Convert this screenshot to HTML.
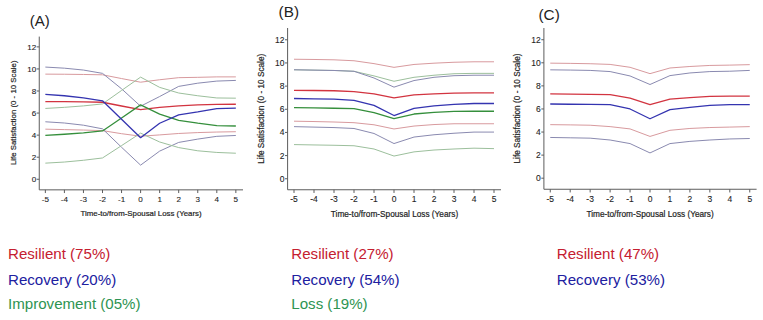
<!DOCTYPE html>
<html><head><meta charset="utf-8"><style>
html,body{margin:0;padding:0;background:#fff;width:763px;height:320px;overflow:hidden}
svg{display:block;font-family:"Liberation Sans", sans-serif}
</style></head><body>
<svg width="763" height="320" viewBox="0 0 763 320">
<rect width="763" height="320" fill="#fff"/>
<text x="29.75" y="25.7" font-size="15" fill="#222">(A)</text>
<path d="M39.25 36.6 V189.85 H243" fill="none" stroke="#5c5c5c" stroke-width="1"/>
<path d="M36.65 179.25 H39.25" stroke="#5c5c5c" stroke-width="1"/>
<text x="36.15" y="182.17" font-size="8.1" text-anchor="end" fill="#1e1e1e" stroke="#1e1e1e" stroke-width="0.1">0</text>
<path d="M36.65 157.19 H39.25" stroke="#5c5c5c" stroke-width="1"/>
<text x="36.15" y="160.11" font-size="8.1" text-anchor="end" fill="#1e1e1e" stroke="#1e1e1e" stroke-width="0.1">2</text>
<path d="M36.65 135.13 H39.25" stroke="#5c5c5c" stroke-width="1"/>
<text x="36.15" y="138.05" font-size="8.1" text-anchor="end" fill="#1e1e1e" stroke="#1e1e1e" stroke-width="0.1">4</text>
<path d="M36.65 113.07 H39.25" stroke="#5c5c5c" stroke-width="1"/>
<text x="36.15" y="115.99" font-size="8.1" text-anchor="end" fill="#1e1e1e" stroke="#1e1e1e" stroke-width="0.1">6</text>
<path d="M36.65 91.01 H39.25" stroke="#5c5c5c" stroke-width="1"/>
<text x="36.15" y="93.93" font-size="8.1" text-anchor="end" fill="#1e1e1e" stroke="#1e1e1e" stroke-width="0.1">8</text>
<path d="M36.65 68.95 H39.25" stroke="#5c5c5c" stroke-width="1"/>
<text x="36.15" y="71.87" font-size="8.1" text-anchor="end" fill="#1e1e1e" stroke="#1e1e1e" stroke-width="0.1">10</text>
<path d="M36.65 46.89 H39.25" stroke="#5c5c5c" stroke-width="1"/>
<text x="36.15" y="49.81" font-size="8.1" text-anchor="end" fill="#1e1e1e" stroke="#1e1e1e" stroke-width="0.1">12</text>
<path d="M45.35 189.85 V193.05" stroke="#5c5c5c" stroke-width="1"/>
<text x="45.35" y="202.20" font-size="8.1" text-anchor="middle" fill="#1e1e1e" stroke="#1e1e1e" stroke-width="0.1">-5</text>
<path d="M64.40 189.85 V193.05" stroke="#5c5c5c" stroke-width="1"/>
<text x="64.40" y="202.20" font-size="8.1" text-anchor="middle" fill="#1e1e1e" stroke="#1e1e1e" stroke-width="0.1">-4</text>
<path d="M83.45 189.85 V193.05" stroke="#5c5c5c" stroke-width="1"/>
<text x="83.45" y="202.20" font-size="8.1" text-anchor="middle" fill="#1e1e1e" stroke="#1e1e1e" stroke-width="0.1">-3</text>
<path d="M102.50 189.85 V193.05" stroke="#5c5c5c" stroke-width="1"/>
<text x="102.50" y="202.20" font-size="8.1" text-anchor="middle" fill="#1e1e1e" stroke="#1e1e1e" stroke-width="0.1">-2</text>
<path d="M121.55 189.85 V193.05" stroke="#5c5c5c" stroke-width="1"/>
<text x="121.55" y="202.20" font-size="8.1" text-anchor="middle" fill="#1e1e1e" stroke="#1e1e1e" stroke-width="0.1">-1</text>
<path d="M140.60 189.85 V193.05" stroke="#5c5c5c" stroke-width="1"/>
<text x="140.60" y="202.20" font-size="8.1" text-anchor="middle" fill="#1e1e1e" stroke="#1e1e1e" stroke-width="0.1">0</text>
<path d="M159.65 189.85 V193.05" stroke="#5c5c5c" stroke-width="1"/>
<text x="159.65" y="202.20" font-size="8.1" text-anchor="middle" fill="#1e1e1e" stroke="#1e1e1e" stroke-width="0.1">1</text>
<path d="M178.70 189.85 V193.05" stroke="#5c5c5c" stroke-width="1"/>
<text x="178.70" y="202.20" font-size="8.1" text-anchor="middle" fill="#1e1e1e" stroke="#1e1e1e" stroke-width="0.1">2</text>
<path d="M197.75 189.85 V193.05" stroke="#5c5c5c" stroke-width="1"/>
<text x="197.75" y="202.20" font-size="8.1" text-anchor="middle" fill="#1e1e1e" stroke="#1e1e1e" stroke-width="0.1">3</text>
<path d="M216.80 189.85 V193.05" stroke="#5c5c5c" stroke-width="1"/>
<text x="216.80" y="202.20" font-size="8.1" text-anchor="middle" fill="#1e1e1e" stroke="#1e1e1e" stroke-width="0.1">4</text>
<path d="M235.85 189.85 V193.05" stroke="#5c5c5c" stroke-width="1"/>
<text x="235.85" y="202.20" font-size="8.1" text-anchor="middle" fill="#1e1e1e" stroke="#1e1e1e" stroke-width="0.1">5</text>
<text x="141.1" y="215.9" font-size="7.85" text-anchor="middle" fill="#1e1e1e" stroke="#1e1e1e" stroke-width="0.2">Time-to/from-Spousal Loss (Years)</text>
<text transform="translate(16.1 112.8) rotate(-90)" x="0" y="0" font-size="7.85" text-anchor="middle" fill="#1e1e1e" stroke="#1e1e1e" stroke-width="0.2">Life Satisfaction (0 - 10 Scale)</text>
<polyline points="45.35,74.13 64.40,74.24 83.45,74.47 102.50,74.80 121.55,78.55 140.60,82.19 159.65,79.76 178.70,77.66 197.75,77.33 216.80,76.89 235.85,76.89" fill="none" stroke="#d89a9e" stroke-width="1.0" stroke-linejoin="round"/>
<polyline points="45.35,129.17 64.40,129.62 83.45,130.06 102.50,130.61 121.55,133.70 140.60,136.23 159.65,134.91 178.70,133.48 197.75,132.59 216.80,132.04 235.85,131.71" fill="none" stroke="#d89a9e" stroke-width="1.0" stroke-linejoin="round"/>
<polyline points="45.35,67.07 64.40,68.18 83.45,70.05 102.50,73.36 121.55,88.80 140.60,106.23 159.65,96.53 178.70,86.38 197.75,83.18 216.80,81.08 235.85,80.42" fill="none" stroke="#8a8ab0" stroke-width="1.0" stroke-linejoin="round"/>
<polyline points="45.35,121.78 64.40,123.00 83.45,125.20 102.50,128.84 121.55,147.26 140.60,165.13 159.65,151.12 178.70,142.41 197.75,139.10 216.80,136.34 235.85,135.46" fill="none" stroke="#8a8ab0" stroke-width="1.0" stroke-linejoin="round"/>
<polyline points="45.35,108.44 64.40,107.33 83.45,105.90 102.50,103.92 121.55,90.46 140.60,77.11 159.65,87.37 178.70,93.00 197.75,95.75 216.80,97.96 235.85,98.18" fill="none" stroke="#9cbf9c" stroke-width="1.0" stroke-linejoin="round"/>
<polyline points="45.35,163.15 64.40,162.04 83.45,160.28 102.50,157.96 121.55,145.61 140.60,133.14 159.65,141.97 178.70,147.59 197.75,150.79 216.80,152.45 235.85,153.22" fill="none" stroke="#9cbf9c" stroke-width="1.0" stroke-linejoin="round"/>
<polyline points="45.35,101.60 64.40,101.71 83.45,101.93 102.50,102.26 121.55,106.01 140.60,109.65 159.65,107.33 178.70,105.90 197.75,104.91 216.80,104.47 235.85,104.25" fill="none" stroke="#d23440" stroke-width="1.3" stroke-linejoin="round"/>
<polyline points="45.35,135.35 64.40,134.25 83.45,132.92 102.50,130.94 121.55,117.92 140.60,104.91 159.65,114.06 178.70,120.35 197.75,123.22 216.80,125.64 235.85,125.98" fill="none" stroke="#358f3c" stroke-width="1.3" stroke-linejoin="round"/>
<polyline points="45.35,94.43 64.40,95.75 83.45,97.96 102.50,100.83 121.55,119.25 140.60,137.67 159.65,123.22 178.70,114.83 197.75,111.97 216.80,108.66 235.85,108.22" fill="none" stroke="#3434b0" stroke-width="1.3" stroke-linejoin="round"/>
<text x="278.6" y="17.4" font-size="15.3" fill="#222">(B)</text>
<path d="M287.6 28 V189.75 H501" fill="none" stroke="#5c5c5c" stroke-width="1"/>
<path d="M285.00 178.75 H287.6" stroke="#5c5c5c" stroke-width="1"/>
<text x="284.50" y="181.81" font-size="8.5" text-anchor="end" fill="#1e1e1e" stroke="#1e1e1e" stroke-width="0.1">0</text>
<path d="M285.00 155.59 H287.6" stroke="#5c5c5c" stroke-width="1"/>
<text x="284.50" y="158.65" font-size="8.5" text-anchor="end" fill="#1e1e1e" stroke="#1e1e1e" stroke-width="0.1">2</text>
<path d="M285.00 132.43 H287.6" stroke="#5c5c5c" stroke-width="1"/>
<text x="284.50" y="135.49" font-size="8.5" text-anchor="end" fill="#1e1e1e" stroke="#1e1e1e" stroke-width="0.1">4</text>
<path d="M285.00 109.27 H287.6" stroke="#5c5c5c" stroke-width="1"/>
<text x="284.50" y="112.33" font-size="8.5" text-anchor="end" fill="#1e1e1e" stroke="#1e1e1e" stroke-width="0.1">6</text>
<path d="M285.00 86.11 H287.6" stroke="#5c5c5c" stroke-width="1"/>
<text x="284.50" y="89.17" font-size="8.5" text-anchor="end" fill="#1e1e1e" stroke="#1e1e1e" stroke-width="0.1">8</text>
<path d="M285.00 62.95 H287.6" stroke="#5c5c5c" stroke-width="1"/>
<text x="284.50" y="66.01" font-size="8.5" text-anchor="end" fill="#1e1e1e" stroke="#1e1e1e" stroke-width="0.1">10</text>
<path d="M285.00 39.79 H287.6" stroke="#5c5c5c" stroke-width="1"/>
<text x="284.50" y="42.85" font-size="8.5" text-anchor="end" fill="#1e1e1e" stroke="#1e1e1e" stroke-width="0.1">12</text>
<path d="M294.00 189.75 V192.95" stroke="#5c5c5c" stroke-width="1"/>
<text x="294.00" y="202.40" font-size="8.5" text-anchor="middle" fill="#1e1e1e" stroke="#1e1e1e" stroke-width="0.1">-5</text>
<path d="M314.00 189.75 V192.95" stroke="#5c5c5c" stroke-width="1"/>
<text x="314.00" y="202.40" font-size="8.5" text-anchor="middle" fill="#1e1e1e" stroke="#1e1e1e" stroke-width="0.1">-4</text>
<path d="M334.00 189.75 V192.95" stroke="#5c5c5c" stroke-width="1"/>
<text x="334.00" y="202.40" font-size="8.5" text-anchor="middle" fill="#1e1e1e" stroke="#1e1e1e" stroke-width="0.1">-3</text>
<path d="M354.00 189.75 V192.95" stroke="#5c5c5c" stroke-width="1"/>
<text x="354.00" y="202.40" font-size="8.5" text-anchor="middle" fill="#1e1e1e" stroke="#1e1e1e" stroke-width="0.1">-2</text>
<path d="M374.00 189.75 V192.95" stroke="#5c5c5c" stroke-width="1"/>
<text x="374.00" y="202.40" font-size="8.5" text-anchor="middle" fill="#1e1e1e" stroke="#1e1e1e" stroke-width="0.1">-1</text>
<path d="M394.00 189.75 V192.95" stroke="#5c5c5c" stroke-width="1"/>
<text x="394.00" y="202.40" font-size="8.5" text-anchor="middle" fill="#1e1e1e" stroke="#1e1e1e" stroke-width="0.1">0</text>
<path d="M414.00 189.75 V192.95" stroke="#5c5c5c" stroke-width="1"/>
<text x="414.00" y="202.40" font-size="8.5" text-anchor="middle" fill="#1e1e1e" stroke="#1e1e1e" stroke-width="0.1">1</text>
<path d="M434.00 189.75 V192.95" stroke="#5c5c5c" stroke-width="1"/>
<text x="434.00" y="202.40" font-size="8.5" text-anchor="middle" fill="#1e1e1e" stroke="#1e1e1e" stroke-width="0.1">2</text>
<path d="M454.00 189.75 V192.95" stroke="#5c5c5c" stroke-width="1"/>
<text x="454.00" y="202.40" font-size="8.5" text-anchor="middle" fill="#1e1e1e" stroke="#1e1e1e" stroke-width="0.1">3</text>
<path d="M474.00 189.75 V192.95" stroke="#5c5c5c" stroke-width="1"/>
<text x="474.00" y="202.40" font-size="8.5" text-anchor="middle" fill="#1e1e1e" stroke="#1e1e1e" stroke-width="0.1">4</text>
<path d="M494.00 189.75 V192.95" stroke="#5c5c5c" stroke-width="1"/>
<text x="494.00" y="202.40" font-size="8.5" text-anchor="middle" fill="#1e1e1e" stroke="#1e1e1e" stroke-width="0.1">5</text>
<text x="394.5" y="217.4" font-size="8.25" text-anchor="middle" fill="#1e1e1e" stroke="#1e1e1e" stroke-width="0.2">Time-to/from-Spousal Loss (Years)</text>
<text transform="translate(263.7 108.75) rotate(-90)" x="0" y="0" font-size="8.25" text-anchor="middle" fill="#1e1e1e" stroke="#1e1e1e" stroke-width="0.2">Life Satisfaction (0 - 10 Scale)</text>
<polyline points="294.00,59.24 314.00,59.48 334.00,59.82 354.00,60.75 374.00,63.64 394.00,67.35 414.00,64.46 434.00,63.18 454.00,62.26 474.00,61.79 494.00,61.79" fill="none" stroke="#d89a9e" stroke-width="1.0" stroke-linejoin="round"/>
<polyline points="294.00,121.20 314.00,121.54 334.00,122.01 354.00,122.70 374.00,124.79 394.00,128.96 414.00,126.06 434.00,124.56 454.00,123.75 474.00,123.75 494.00,123.75" fill="none" stroke="#d89a9e" stroke-width="1.0" stroke-linejoin="round"/>
<polyline points="294.00,69.78 314.00,70.13 334.00,70.48 354.00,71.29 374.00,75.92 394.00,81.25 414.00,77.31 434.00,75.22 454.00,73.72 474.00,73.37 494.00,73.37" fill="none" stroke="#9cbf9c" stroke-width="1.0" stroke-linejoin="round"/>
<polyline points="294.00,144.59 314.00,144.94 334.00,145.28 354.00,145.75 374.00,148.99 394.00,156.05 414.00,151.88 434.00,150.03 454.00,148.99 474.00,148.18 494.00,148.64" fill="none" stroke="#9cbf9c" stroke-width="1.0" stroke-linejoin="round"/>
<polyline points="294.00,69.78 314.00,70.13 334.00,70.48 354.00,71.29 374.00,78.00 394.00,87.15 414.00,80.55 434.00,77.31 454.00,75.69 474.00,75.22 494.00,75.22" fill="none" stroke="#8a8ab0" stroke-width="1.0" stroke-linejoin="round"/>
<polyline points="294.00,126.64 314.00,127.10 334.00,127.57 354.00,128.49 374.00,133.47 394.00,143.55 414.00,137.06 434.00,134.75 454.00,133.24 474.00,132.08 494.00,132.08" fill="none" stroke="#8a8ab0" stroke-width="1.0" stroke-linejoin="round"/>
<polyline points="294.00,90.28 314.00,90.51 334.00,90.74 354.00,91.55 374.00,93.87 394.00,97.92 414.00,94.91 434.00,93.87 454.00,93.17 474.00,92.83 494.00,92.83" fill="none" stroke="#d23440" stroke-width="1.3" stroke-linejoin="round"/>
<polyline points="294.00,107.65 314.00,107.88 334.00,108.23 354.00,108.69 374.00,112.63 394.00,118.53 414.00,114.02 434.00,112.28 454.00,111.47 474.00,111.24 494.00,111.24" fill="none" stroke="#358f3c" stroke-width="1.3" stroke-linejoin="round"/>
<polyline points="294.00,98.50 314.00,98.85 334.00,99.20 354.00,100.35 374.00,105.45 394.00,115.52 414.00,108.34 434.00,105.80 454.00,104.41 474.00,103.48 494.00,103.48" fill="none" stroke="#3434b0" stroke-width="1.3" stroke-linejoin="round"/>
<text x="538.5" y="20.2" font-size="15.3" fill="#222">(C)</text>
<path d="M543.9 28 V189.25 H756.6" fill="none" stroke="#5c5c5c" stroke-width="1"/>
<path d="M541.30 178.20 H543.9" stroke="#5c5c5c" stroke-width="1"/>
<text x="540.80" y="181.26" font-size="8.5" text-anchor="end" fill="#1e1e1e" stroke="#1e1e1e" stroke-width="0.1">0</text>
<path d="M541.30 155.12 H543.9" stroke="#5c5c5c" stroke-width="1"/>
<text x="540.80" y="158.18" font-size="8.5" text-anchor="end" fill="#1e1e1e" stroke="#1e1e1e" stroke-width="0.1">2</text>
<path d="M541.30 132.04 H543.9" stroke="#5c5c5c" stroke-width="1"/>
<text x="540.80" y="135.10" font-size="8.5" text-anchor="end" fill="#1e1e1e" stroke="#1e1e1e" stroke-width="0.1">4</text>
<path d="M541.30 108.96 H543.9" stroke="#5c5c5c" stroke-width="1"/>
<text x="540.80" y="112.02" font-size="8.5" text-anchor="end" fill="#1e1e1e" stroke="#1e1e1e" stroke-width="0.1">6</text>
<path d="M541.30 85.88 H543.9" stroke="#5c5c5c" stroke-width="1"/>
<text x="540.80" y="88.94" font-size="8.5" text-anchor="end" fill="#1e1e1e" stroke="#1e1e1e" stroke-width="0.1">8</text>
<path d="M541.30 62.80 H543.9" stroke="#5c5c5c" stroke-width="1"/>
<text x="540.80" y="65.86" font-size="8.5" text-anchor="end" fill="#1e1e1e" stroke="#1e1e1e" stroke-width="0.1">10</text>
<path d="M541.30 39.72 H543.9" stroke="#5c5c5c" stroke-width="1"/>
<text x="540.80" y="42.78" font-size="8.5" text-anchor="end" fill="#1e1e1e" stroke="#1e1e1e" stroke-width="0.1">12</text>
<path d="M550.25 189.25 V192.45" stroke="#5c5c5c" stroke-width="1"/>
<text x="550.25" y="201.90" font-size="8.5" text-anchor="middle" fill="#1e1e1e" stroke="#1e1e1e" stroke-width="0.1">-5</text>
<path d="M570.20 189.25 V192.45" stroke="#5c5c5c" stroke-width="1"/>
<text x="570.20" y="201.90" font-size="8.5" text-anchor="middle" fill="#1e1e1e" stroke="#1e1e1e" stroke-width="0.1">-4</text>
<path d="M590.15 189.25 V192.45" stroke="#5c5c5c" stroke-width="1"/>
<text x="590.15" y="201.90" font-size="8.5" text-anchor="middle" fill="#1e1e1e" stroke="#1e1e1e" stroke-width="0.1">-3</text>
<path d="M610.10 189.25 V192.45" stroke="#5c5c5c" stroke-width="1"/>
<text x="610.10" y="201.90" font-size="8.5" text-anchor="middle" fill="#1e1e1e" stroke="#1e1e1e" stroke-width="0.1">-2</text>
<path d="M630.05 189.25 V192.45" stroke="#5c5c5c" stroke-width="1"/>
<text x="630.05" y="201.90" font-size="8.5" text-anchor="middle" fill="#1e1e1e" stroke="#1e1e1e" stroke-width="0.1">-1</text>
<path d="M650.00 189.25 V192.45" stroke="#5c5c5c" stroke-width="1"/>
<text x="650.00" y="201.90" font-size="8.5" text-anchor="middle" fill="#1e1e1e" stroke="#1e1e1e" stroke-width="0.1">0</text>
<path d="M669.95 189.25 V192.45" stroke="#5c5c5c" stroke-width="1"/>
<text x="669.95" y="201.90" font-size="8.5" text-anchor="middle" fill="#1e1e1e" stroke="#1e1e1e" stroke-width="0.1">1</text>
<path d="M689.90 189.25 V192.45" stroke="#5c5c5c" stroke-width="1"/>
<text x="689.90" y="201.90" font-size="8.5" text-anchor="middle" fill="#1e1e1e" stroke="#1e1e1e" stroke-width="0.1">2</text>
<path d="M709.85 189.25 V192.45" stroke="#5c5c5c" stroke-width="1"/>
<text x="709.85" y="201.90" font-size="8.5" text-anchor="middle" fill="#1e1e1e" stroke="#1e1e1e" stroke-width="0.1">3</text>
<path d="M729.80 189.25 V192.45" stroke="#5c5c5c" stroke-width="1"/>
<text x="729.80" y="201.90" font-size="8.5" text-anchor="middle" fill="#1e1e1e" stroke="#1e1e1e" stroke-width="0.1">4</text>
<path d="M749.75 189.25 V192.45" stroke="#5c5c5c" stroke-width="1"/>
<text x="749.75" y="201.90" font-size="8.5" text-anchor="middle" fill="#1e1e1e" stroke="#1e1e1e" stroke-width="0.1">5</text>
<text x="650.1" y="216.8" font-size="8.25" text-anchor="middle" fill="#1e1e1e" stroke="#1e1e1e" stroke-width="0.2">Time-to/from-Spousal Loss (Years)</text>
<text transform="translate(519.8 108.5) rotate(-90)" x="0" y="0" font-size="8.25" text-anchor="middle" fill="#1e1e1e" stroke="#1e1e1e" stroke-width="0.2">Life Satisfaction (0 - 10 Scale)</text>
<polyline points="550.25,63.15 570.20,63.38 590.15,63.72 610.10,64.42 630.05,67.30 650.00,73.65 669.95,67.99 689.90,66.49 709.85,65.45 729.80,65.11 749.75,64.65" fill="none" stroke="#d89a9e" stroke-width="1.0" stroke-linejoin="round"/>
<polyline points="550.25,124.65 570.20,124.89 590.15,125.23 610.10,126.62 630.05,128.92 650.00,136.43 669.95,130.31 689.90,128.46 709.85,127.54 729.80,127.08 749.75,126.62" fill="none" stroke="#d89a9e" stroke-width="1.0" stroke-linejoin="round"/>
<polyline points="550.25,69.84 570.20,70.07 590.15,70.42 610.10,71.57 630.05,75.96 650.00,84.50 669.95,75.61 689.90,72.96 709.85,71.57 729.80,71.22 749.75,70.42" fill="none" stroke="#8a8ab0" stroke-width="1.0" stroke-linejoin="round"/>
<polyline points="550.25,137.46 570.20,137.81 590.15,138.16 610.10,140.00 630.05,143.58 650.00,152.93 669.95,143.58 689.90,141.39 709.85,140.00 729.80,138.96 749.75,138.50" fill="none" stroke="#8a8ab0" stroke-width="1.0" stroke-linejoin="round"/>
<polyline points="550.25,93.84 570.20,94.07 590.15,94.30 610.10,94.65 630.05,98.23 650.00,104.69 669.95,99.15 689.90,97.54 709.85,96.38 729.80,96.15 749.75,96.15" fill="none" stroke="#d23440" stroke-width="1.3" stroke-linejoin="round"/>
<polyline points="550.25,104.00 570.20,104.23 590.15,104.46 610.10,104.69 630.05,108.96 650.00,118.77 669.95,109.65 689.90,107.34 709.85,105.38 729.80,104.69 749.75,104.69" fill="none" stroke="#3434b0" stroke-width="1.3" stroke-linejoin="round"/>
<text x="8.0" y="259.1" font-size="15.1" fill="#c52030">Resilient (75%)</text>
<text x="8.0" y="284.5" font-size="15.1" fill="#2020a0">Recovery (20%)</text>
<text x="8.0" y="308.5" font-size="15.1" fill="#2e9452">Improvement (05%)</text>
<text x="291.3" y="259.1" font-size="15.1" fill="#c52030">Resilient (27%)</text>
<text x="291.3" y="284.5" font-size="15.1" fill="#2020a0">Recovery (54%)</text>
<text x="291.3" y="308.5" font-size="15.1" fill="#2e9452">Loss (19%)</text>
<text x="556.8" y="259.1" font-size="15.1" fill="#c52030">Resilient (47%)</text>
<text x="556.8" y="284.5" font-size="15.1" fill="#2020a0">Recovery (53%)</text>
</svg>
</body></html>
